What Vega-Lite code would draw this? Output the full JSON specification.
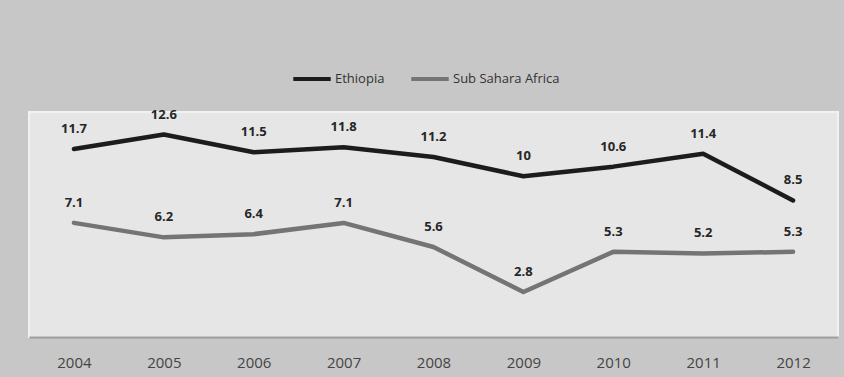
{
  "$schema": "https://vega.github.io/schema/vega-lite/v6.json",
  "autosize": {"type": "none"},
  "width": 809,
  "height": 225,
  "padding": {"left": 29, "top": 112, "right": 6, "bottom": 40},
  "background": "#c7c7c7",
  "config": {
    "view": {"fill": "#e6e6e6", "stroke": "#f1f1f1", "strokeWidth": 2},
    "font": "Open Sans"
  },
  "data": {
    "values": [
      {"year": "2004", "region": "Ethiopia", "value": 11.7},
      {"year": "2005", "region": "Ethiopia", "value": 12.6},
      {"year": "2006", "region": "Ethiopia", "value": 11.5},
      {"year": "2007", "region": "Ethiopia", "value": 11.8},
      {"year": "2008", "region": "Ethiopia", "value": 11.2},
      {"year": "2009", "region": "Ethiopia", "value": 10},
      {"year": "2010", "region": "Ethiopia", "value": 10.6},
      {"year": "2011", "region": "Ethiopia", "value": 11.4},
      {"year": "2012", "region": "Ethiopia", "value": 8.5},
      {"year": "2004", "region": "Sub Sahara Africa", "value": 7.1},
      {"year": "2005", "region": "Sub Sahara Africa", "value": 6.2},
      {"year": "2006", "region": "Sub Sahara Africa", "value": 6.4},
      {"year": "2007", "region": "Sub Sahara Africa", "value": 7.1},
      {"year": "2008", "region": "Sub Sahara Africa", "value": 5.6},
      {"year": "2009", "region": "Sub Sahara Africa", "value": 2.8},
      {"year": "2010", "region": "Sub Sahara Africa", "value": 5.3},
      {"year": "2011", "region": "Sub Sahara Africa", "value": 5.2},
      {"year": "2012", "region": "Sub Sahara Africa", "value": 5.3}
    ]
  },
  "encoding": {
    "x": {
      "field": "year",
      "type": "ordinal",
      "scale": {"type": "point", "padding": 0.5},
      "axis": {
        "title": null,
        "labelAngle": 0,
        "ticks": false,
        "grid": false,
        "domainColor": "#9c9c9c",
        "domainWidth": 2,
        "labelColor": "#444444",
        "labelFontSize": 15,
        "labelPadding": 18,
        "labelBaseline": "top"
      }
    },
    "y": {
      "field": "value",
      "type": "quantitative",
      "scale": {"domain": [0, 14]},
      "axis": null
    }
  },
  "layer": [
    {
      "mark": {"type": "line", "strokeWidth": 4.5, "strokeCap": "round", "strokeJoin": "round"},
      "encoding": {
        "color": {
          "field": "region",
          "type": "nominal",
          "scale": {"domain": ["Ethiopia", "Sub Sahara Africa"], "range": ["#1c1c1c", "#747474"]},
          "legend": {
            "title": null,
            "orient": "none",
            "direction": "horizontal",
            "legendX": 262,
            "legendY": -54,
            "symbolType": "stroke",
            "symbolSize": 1400,
            "symbolStrokeWidth": 4,
            "labelFontSize": 13,
            "labelColor": "#333333",
            "labelOffset": 2,
            "columnPadding": 18
          }
        }
      }
    },
    {
      "mark": {"type": "text", "dy": -20, "fontWeight": "bold", "fontSize": 13, "color": "#262626"},
      "encoding": {
        "text": {"field": "value", "type": "quantitative"},
        "detail": {"field": "region", "type": "nominal"}
      }
    }
  ]
}
